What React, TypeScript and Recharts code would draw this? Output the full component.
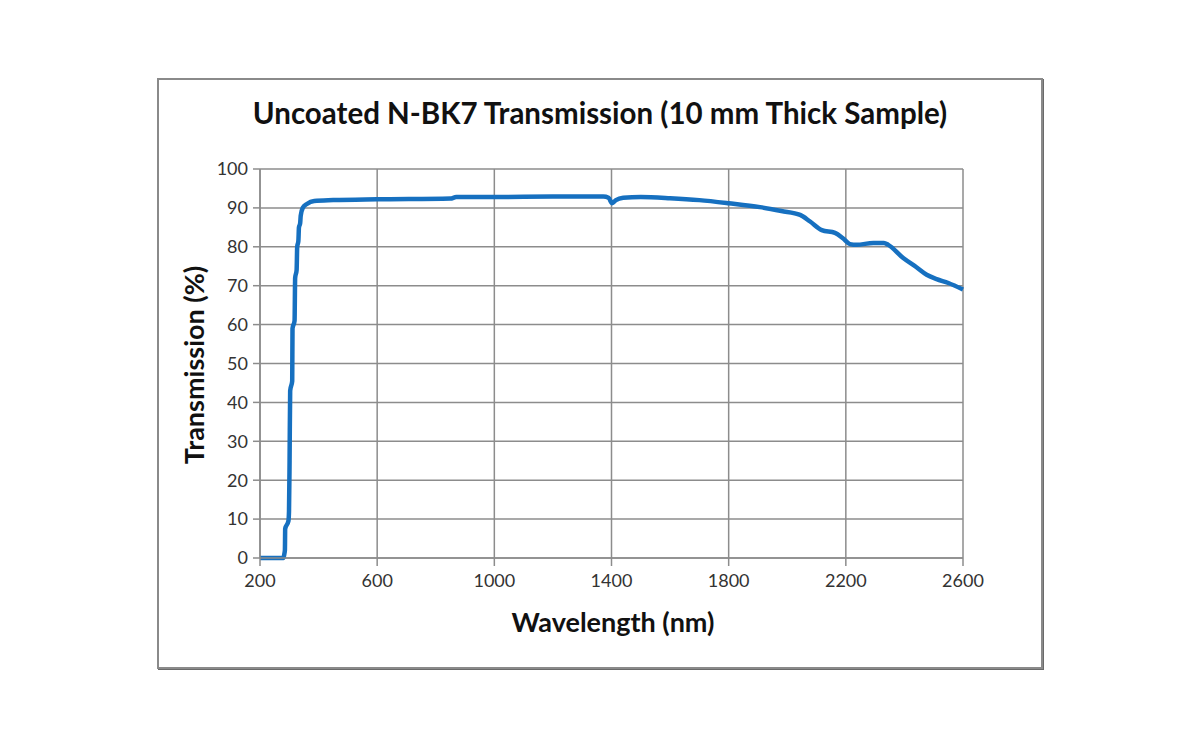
import { CartesianGrid, Line, LineChart, XAxis, YAxis } from 'recharts';

// wavelength in nm, transmission in %
const wavelengths = [
  200, 280, 283, 285, 286, 297, 299, 301, 303, 310, 311, 318, 320, 325, 327, 331, 333, 337, 339,
  346, 360, 385, 450, 600, 850, 870, 1000, 1200, 1372, 1390, 1402, 1415, 1440, 1500, 1600, 1700,
  1800, 1907, 1980, 2044, 2078, 2118, 2163, 2190, 2214, 2237, 2294, 2330, 2345, 2396, 2440, 2476,
  2510, 2550, 2600,
];
const transmission = [
  0, 0, 1, 2, 7.5, 9.5, 12, 25, 43, 45.5, 59, 61, 72, 74, 80, 81.5, 85, 86, 88, 90, 91, 91.8, 92,
  92.2, 92.4, 92.8, 92.8, 92.9, 92.9, 92.6, 91.2, 92.0, 92.6, 92.8, 92.5, 92.0, 91.2, 90.2, 89.2,
  88.2, 86.5, 84.3, 83.6, 82.2, 80.7, 80.5, 81.0, 81.0, 80.5, 77.1, 74.8, 72.8, 71.7, 70.7, 69.0,
];
const xTicks = [200, 600, 1000, 1400, 1800, 2200, 2600];
const yTicks = [0, 10, 20, 30, 40, 50, 60, 70, 80, 90, 100];

const data = wavelengths.map((w, i) => ({ wavelength: w, value: transmission[i] }));

const font = 'Lato, "Open Sans", sans-serif';
const gridColor = '#8c8c8c';

export default function App() {
  return (
    <div style={{ position: 'absolute', left: 0, top: 0, width: 1200, height: 750, background: '#fff', fontFamily: font }}>
      <div
        style={{
          position: 'absolute',
          left: 157,
          top: 78,
          width: 882,
          height: 587,
          border: '2px solid #8a8a8a',
          boxShadow: '1px 1px 0 #6a6a6a',
        }}
      />
      <div
        style={{
          position: 'absolute',
          left: 0,
          width: 1200,
          top: 95,
          textAlign: 'center',
          fontSize: 29.5,
          fontWeight: 700,
          color: '#111',
        }}
      >
        Uncoated N-BK7 Transmission (10 mm Thick Sample)
      </div>
      <div
        style={{
          position: 'absolute',
          left: 0,
          width: 1226,
          top: 605,
          textAlign: 'center',
          fontSize: 27,
          fontWeight: 700,
          color: '#111',
        }}
      >
        Wavelength (nm)
      </div>
      <div
        style={{
          position: 'absolute',
          left: 193,
          top: 365,
          transform: 'translate(-50%, -50%) rotate(-90deg)',
          whiteSpace: 'nowrap',
          fontSize: 27,
          fontWeight: 700,
          color: '#111',
        }}
      >
        Transmission (%)
      </div>
      <div style={{ position: 'absolute', left: 0, top: 0 }}>
        <LineChart
          width={1200}
          height={750}
          data={data}
          margin={{ top: 169, right: 237, bottom: 152, left: 200 }}
        >
          <CartesianGrid stroke={gridColor} strokeWidth={1.5} />
          <XAxis
            dataKey="wavelength"
            type="number"
            domain={[200, 2600]}
            ticks={xTicks}
            interval={0}
            height={40}
            tickSize={8}
            tickMargin={8}
            stroke={gridColor}
            strokeWidth={1.5}
            tick={{ fill: '#333', fontSize: 18, fontFamily: font }}
          />
          <YAxis
            type="number"
            domain={[0, 100]}
            ticks={yTicks}
            interval={0}
            width={60}
            tickSize={7}
            tickMargin={5}
            stroke={gridColor}
            strokeWidth={1.5}
            tick={{ fill: '#333', fontSize: 18, fontFamily: font }}
          />
          <Line
            type="monotone"
            dataKey="value"
            stroke="#1670c0"
            strokeWidth={4.5}
            strokeLinejoin="round"
            dot={false}
            activeDot={false}
            isAnimationActive={false}
          />
        </LineChart>
      </div>
    </div>
  );
}
